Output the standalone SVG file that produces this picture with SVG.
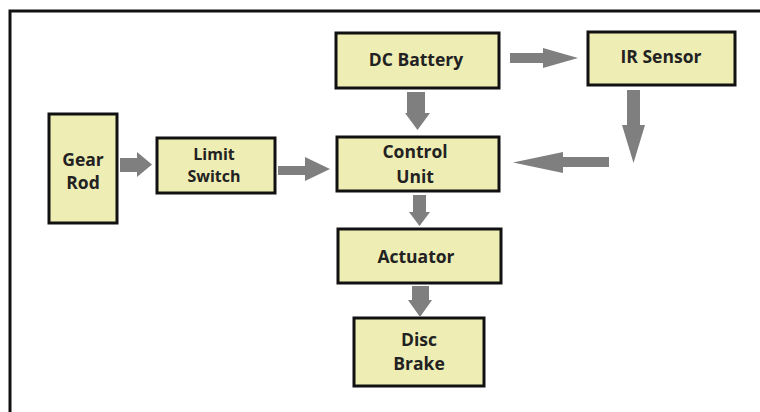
<svg xmlns="http://www.w3.org/2000/svg" width="760" height="412" viewBox="0 0 760 412">
<style>
.box{fill:#EEEDB3;stroke:#111;stroke-width:3}
.t{font-family:"Open Sans","Liberation Sans",sans-serif;font-weight:bold;font-size:17.5px;fill:#222;text-anchor:middle}
.s{font-size:16px}
.arr{fill:#7f7f7f}
</style>
<rect x="0" y="0" width="760" height="412" fill="#fff"/>
<path d="M10 412 V11 H760" fill="none" stroke="#111" stroke-width="3"/>
<g id="gear-rod"><rect class="box" x="49" y="114" width="68" height="109"/><text class="t" x="83" y="166">Gear</text><text class="t" x="83" y="189">Rod</text></g>
<g id="limit-switch"><rect class="box" x="157" y="138" width="118" height="55"/><text class="t s" x="214" y="160">Limit</text><text class="t s" x="214" y="182">Switch</text></g>
<g id="dc-battery"><rect class="box" x="336" y="33" width="163" height="55"/><text class="t" x="416" y="66">DC Battery</text></g>
<g id="ir-sensor"><rect class="box" x="588" y="32" width="147" height="53"/><text class="t" x="661" y="63">IR Sensor</text></g>
<g id="control-unit"><rect class="box" x="337" y="137" width="162" height="54"/><text class="t" x="415" y="158">Control</text><text class="t" x="415" y="183">Unit</text></g>
<g id="actuator"><rect class="box" x="338" y="229" width="163" height="54"/><text class="t" x="416" y="263">Actuator</text></g>
<g id="disc-brake"><rect class="box" x="354" y="318" width="130" height="68"/><text class="t" x="419" y="346">Disc</text><text class="t" x="419" y="370">Brake</text></g>
<g id="connectors" class="arr">
<polygon points="120,158 137,158 137,152 152,164.5 137,177 137,172 120,172"/>
<polygon points="278,166 305,166 305,157 330,169 305,181 305,175 278,175"/>
<polygon points="510,53 543,53 543,48 578,58 543,68 543,63 510,63"/>
<polygon points="407,92 425,92 425,113 430,113 417.5,130 405,113 407,113"/>
<polygon points="627,90 640,90 640,125 645,125 633.5,163 622,125 627,125"/>
<polygon points="609,157 563,157 563,152 513,162.5 563,173 563,167 609,167"/>
<polygon points="413,195 426,195 426,212 430,212 419.5,226 409,212 413,212"/>
<polygon points="412,286 429,286 429,300 432,300 420,317 408,300 412,300"/>
</g>
</svg>
